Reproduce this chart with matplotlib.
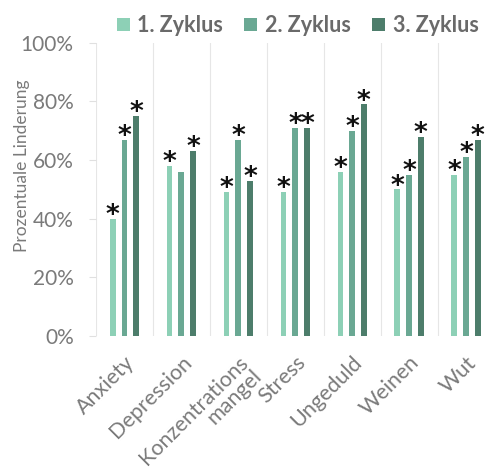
import matplotlib.pyplot as plt
import matplotlib.transforms as mtransforms
import numpy as np

plt.rcParams['font.family'] = ['Lato', 'DejaVu Sans']

categories = ['Anxiety', 'Depression', 'Konzentrations\nmangel', 'Stress',
              'Ungeduld', 'Weinen', 'Wut']
zyklus1 = [40, 58, 49, 49, 56, 50, 55]
zyklus2 = [67, 56, 67, 71, 70, 55, 61]
zyklus3 = [75, 63, 53, 71, 79, 68, 67]
# significance markers per cycle
sig1 = [1, 1, 1, 1, 1, 1, 1]
sig2 = [1, 0, 1, 1, 1, 1, 1]
sig3 = [1, 1, 1, 1, 1, 1, 1]
labels = ['1. Zyklus', '2. Zyklus', '3. Zyklus']
colors = ['#8dd0b6', '#6aa893', '#4d7d6b']

fig = plt.figure(figsize=(4.92, 4.71), dpi=100)
ax = fig.add_axes([0.195, 0.287, 0.81, 0.622])

x = np.arange(len(categories))
w = 0.1
off = 0.206
for i, (vals, sig) in enumerate(zip([zyklus1, zyklus2, zyklus3], [sig1, sig2, sig3])):
    pos = x + (i - 1) * off
    ax.bar(pos, np.array(vals) / 100, width=w, color=colors[i], label=labels[i], zorder=2)
    for px, v, s in zip(pos, vals, sig):
        if s:
            ax.annotate('*', (px, v / 100), xytext=(0, -3), textcoords='offset points',
                        ha='center', va='baseline', fontsize=19, fontweight='bold',
                        color='#111111', family='DejaVu Sans')

# light separators between categories
for b in np.arange(len(categories) + 1) - 0.5:
    ax.axvline(b, color='#e6e6e6', lw=0.8, zorder=0)

ax.set_xlim(-0.5, len(categories) - 0.5)
ax.set_ylim(0, 1)
ax.set_yticks(np.arange(0, 1.01, 0.2))
ax.set_yticklabels([f'{int(t * 100)}%' for t in np.arange(0, 1.01, 0.2)])
ax.set_xticks(x)
ax.set_xticklabels(categories, rotation=45, ha='right', va='top', rotation_mode='anchor',
                   linespacing=0.95)
shift = mtransforms.ScaledTranslation(-0.03, 0, fig.dpi_scale_trans)
for lab in ax.get_xticklabels():
    lab.set_transform(lab.get_transform() + shift)
for s in ax.spines.values():
    s.set_visible(False)
ax.tick_params(axis='y', colors='#e0e0e0', labelcolor='#7a7a7a', labelsize=15,
               length=5, pad=11)
ax.tick_params(axis='x', length=0, labelcolor='#7a7a7a', labelsize=15.5, pad=12)
ax.set_ylabel('Prozentuale Linderung', color='#7a7a7a', fontsize=12.5)
ax.yaxis.set_label_coords(-0.166, 0.58)

fig.legend(loc='center', bbox_to_anchor=(0.605, 0.946), ncol=3, frameon=False,
           handlelength=0.6, handleheight=0.6, handletextpad=0.35, columnspacing=1.0,
           prop={'size': 15.5, 'weight': 'bold'}, labelcolor='#6a6a6a')

fig.savefig('out.png', dpi=100)
